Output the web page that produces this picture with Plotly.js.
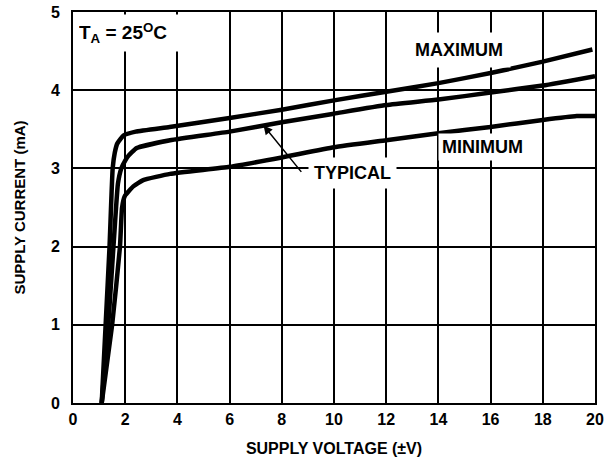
<!DOCTYPE html>
<html>
<head>
<meta charset="utf-8">
<script src="https://cdn.plot.ly/plotly-3.0.1.min.js"></script>
<style>html,body{margin:0;padding:0;background:#fff;}#chart{width:616px;height:463px;}</style>
</head>
<body>
<div id="chart"></div>
<script>
// Supply voltage (±V) and supply current (mA)
const maxV = [1.1, 1.25, 1.4, 1.52, 1.6, 1.7, 1.93, 2.4, 3.7, 6, 8, 10, 12, 14, 16, 18, 19.9];
const maxI = [0, 1, 2, 3.0, 3.2, 3.32, 3.42, 3.47, 3.53, 3.645, 3.75, 3.87, 3.98, 4.09, 4.22, 4.365, 4.52];

const typV = [1.1, 1.35, 1.55, 1.72, 1.85, 2.0, 2.12, 2.44, 3.72, 6, 8, 10, 12, 14, 16, 18, 20];
const typI = [0, 1, 2, 2.8, 3.0, 3.1, 3.16, 3.26, 3.36, 3.47, 3.59, 3.70, 3.81, 3.88, 3.97, 4.06, 4.18];

const minV = [1.1, 1.5, 1.8, 1.88, 1.99, 2.31, 2.69, 3.72, 6, 8, 10, 12, 14, 16, 18, 19.3, 20];
const minI = [0, 1, 2, 2.5, 2.65, 2.77, 2.85, 2.93, 3.02, 3.14, 3.27, 3.36, 3.45, 3.53, 3.62, 3.67, 3.67];

const xTicks = [0, 2, 4, 6, 8, 10, 12, 14, 16, 18, 20];
const yTicks = [0, 1, 2, 3, 4, 5];

const seriesNames = ['MAXIMUM', 'TYPICAL', 'MINIMUM'];

const FONT = 'Liberation Sans, Arial, Helvetica, sans-serif';
const lineStyle = {color: '#000', width: 4.5, shape: 'spline', smoothing: 0.4};

const traces = [
  {x: maxV, y: maxI, name: seriesNames[0], mode: 'lines', line: lineStyle},
  {x: typV, y: typI, name: seriesNames[1], mode: 'lines', line: lineStyle},
  {x: minV, y: minI, name: seriesNames[2], mode: 'lines', line: lineStyle}
];

const axisCommon = {
  showgrid: true, gridcolor: '#000', gridwidth: 2,
  showline: true, linecolor: '#000', linewidth: 2, mirror: true,
  zeroline: false, ticks: '', fixedrange: true,
  tickfont: {family: FONT, size: 16, color: '#000', weight: 'bold'}
};

const layout = {
  width: 616, height: 463,
  margin: {l: 73, r: 21, t: 12, b: 60},
  paper_bgcolor: '#fff', plot_bgcolor: '#fff',
  showlegend: false,
  font: {family: FONT, color: '#000', weight: 'bold'},
  xaxis: Object.assign({}, axisCommon, {
    range: [0, 20], tickvals: xTicks, ticktext: xTicks.map(String),
    ticklabelstandoff: 1,
    title: {text: 'SUPPLY VOLTAGE (±V)', standoff: 16,
            font: {family: FONT, size: 16, color: '#000', weight: 'bold'}}
  }),
  yaxis: Object.assign({}, axisCommon, {
    range: [0, 5], tickvals: yTicks, ticktext: yTicks.map(String),
    ticklabelstandoff: 8,
    title: {text: 'SUPPLY CURRENT (mA)', standoff: 22,
            font: {family: FONT, size: 15, color: '#000', weight: 'bold'}}
  }),
  annotations: [
    {xref: 'paper', yref: 'paper', x: 0, y: 1, xanchor: 'left', yanchor: 'top',
     xshift: 2, yshift: -2, showarrow: false,
     text: 'T<sub>A</sub> = 25<sup>O</sup>C', align: 'left',
     width: 120, height: 30, borderpad: 3, bgcolor: '#fff',
     font: {family: FONT, size: 19, color: '#000', weight: 'bold'}},
    {x: 14.8, y: 4.52, xref: 'x', yref: 'y', showarrow: false, text: seriesNames[0],
     bgcolor: '#fff', borderpad: 7,
     font: {family: FONT, size: 18, color: '#000', weight: 'bold'}},
    {x: 15.7, y: 3.28, xref: 'x', yref: 'y', showarrow: false, text: seriesNames[2],
     bgcolor: '#fff', borderpad: 3,
     font: {family: FONT, size: 18, color: '#000', weight: 'bold'}},
    {x: 10.7, y: 2.94, xref: 'x', yref: 'y', showarrow: false, text: seriesNames[1],
     bgcolor: '#fff', borderpad: 5,
     font: {family: FONT, size: 18, color: '#000', weight: 'bold'}},
    {x: 7.3, y: 3.55, xref: 'x', yref: 'y', text: '', showarrow: true,
     ax: 39, ay: 48, arrowhead: 2, arrowsize: 1.2, arrowwidth: 1.5, arrowcolor: '#000',
     standoff: 0, startstandoff: 0}
  ]
};

Plotly.newPlot('chart', traces, layout, {displayModeBar: false, staticPlot: true});
</script>
</body>
</html>
